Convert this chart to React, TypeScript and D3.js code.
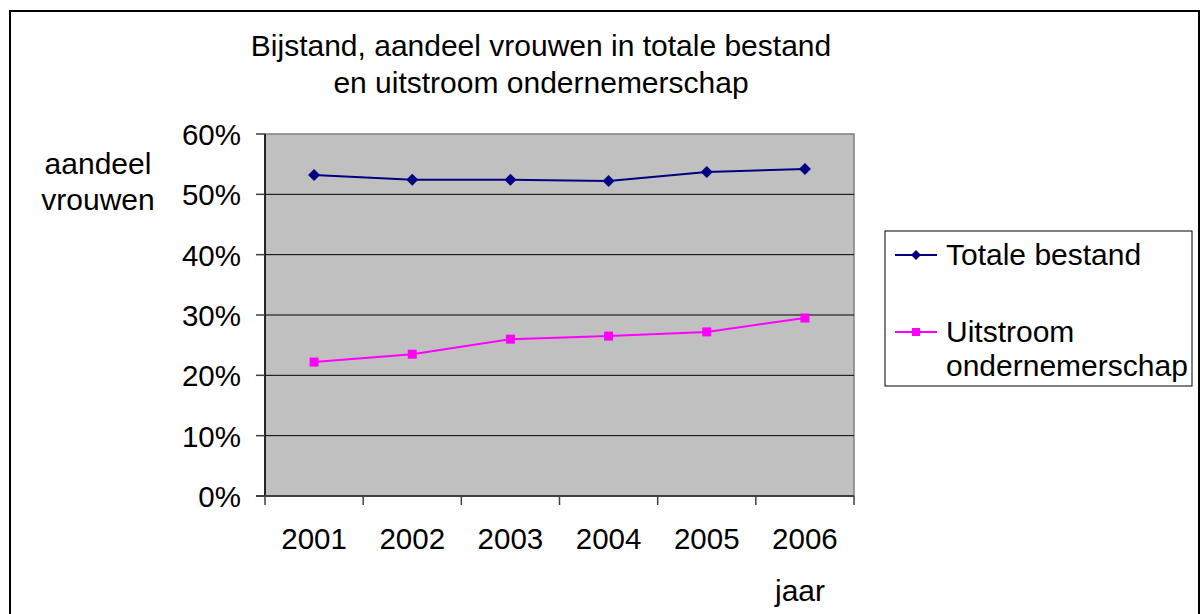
import React from 'react';
import * as d3 from 'd3';

// Chart data
const years = ['2001', '2002', '2003', '2004', '2005', '2006'];
const totaleBestand = [53.2, 52.4, 52.4, 52.2, 53.7, 54.2];
const uitstroom = [22.2, 23.5, 26.0, 26.5, 27.2, 29.5];
const yTicks = [0, 10, 20, 30, 40, 50, 60];

const W = 1204;
const H = 614;
const plot = { left: 265, top: 134, right: 854, bottom: 496 };
const font = '"Liberation Sans", Arial, sans-serif';

const App = () => {
  const x = d3.scaleBand().domain(years).range([plot.left, plot.right]);
  const y = d3.scaleLinear().domain([0, 60]).range([plot.bottom, plot.top]);
  const line = d3.line<number>()
    .x((_, i) => (x(years[i]) as number) + x.bandwidth() / 2)
    .y(d => y(d));

  const diamond = (cx: number, cy: number, r: number) =>
    `M${cx},${cy - r}L${cx + r},${cy}L${cx},${cy + r}L${cx - r},${cy}Z`;

  const boundaries = [...years.map(yr => x(yr) as number), plot.right];

  return (
    <div style={{ position: 'fixed', left: 0, top: 0 }}>
      <svg width={W} height={H} style={{ display: 'block', fontFamily: font }}>
        <rect x={0} y={0} width={W} height={H} fill="white" />
        {/* outer chart border */}
        <rect x={10} y={11} width={1189} height={620} fill="none" stroke="black" strokeWidth={2} />

        {/* title */}
        <text x={541} y={56} textAnchor="middle" fontSize={30}>Bijstand, aandeel vrouwen in totale bestand</text>
        <text x={541} y={93} textAnchor="middle" fontSize={30}>en uitstroom ondernemerschap</text>

        {/* plot area */}
        <rect x={plot.left} y={plot.top} width={plot.right - plot.left} height={plot.bottom - plot.top}
          fill="#C0C0C0" stroke="#808080" strokeWidth={1.5} />

        {/* gridlines */}
        {yTicks.slice(1, -1).map(t => (
          <line key={t} x1={plot.left} x2={plot.right} y1={y(t)} y2={y(t)} stroke="black" strokeWidth={1} />
        ))}

        {/* y axis */}
        <line x1={plot.left} x2={plot.left} y1={plot.top} y2={plot.bottom} stroke="black" strokeWidth={1.5} />
        {yTicks.map(t => (
          <g key={t}>
            <line x1={plot.left - 9} x2={plot.left} y1={y(t)} y2={y(t)} stroke="#404040" strokeWidth={1.5} />
            <text x={241} y={y(t) + 11} textAnchor="end" fontSize={29.5}>{t}%</text>
          </g>
        ))}

        {/* x axis */}
        <line x1={plot.left - 9} x2={plot.right} y1={plot.bottom} y2={plot.bottom} stroke="#404040" strokeWidth={2} />
        {boundaries.map((b, i) => (
          <line key={i} x1={b} x2={b} y1={plot.bottom} y2={plot.bottom + 9} stroke="#404040" strokeWidth={1.5} />
        ))}
        {years.map(yr => (
          <text key={yr} x={(x(yr) as number) + x.bandwidth() / 2} y={549} textAnchor="middle" fontSize={29.5}>{yr}</text>
        ))}

        {/* axis titles */}
        <text x={98} y={174} textAnchor="middle" fontSize={30}>aandeel</text>
        <text x={98} y={210} textAnchor="middle" fontSize={30}>vrouwen</text>
        <text x={800} y={601} textAnchor="middle" fontSize={30}>jaar</text>

        {/* series */}
        <path d={line(totaleBestand) || ''} fill="none" stroke="#000080" strokeWidth={2} />
        {totaleBestand.map((v, i) => (
          <path key={i} d={diamond((x(years[i]) as number) + x.bandwidth() / 2, y(v), 6)} fill="#000080" />
        ))}
        <path d={line(uitstroom) || ''} fill="none" stroke="#FF00FF" strokeWidth={2} />
        {uitstroom.map((v, i) => (
          <rect key={i} x={(x(years[i]) as number) + x.bandwidth() / 2 - 4.5} y={y(v) - 4.5} width={9} height={9} fill="#FF00FF" />
        ))}

        {/* legend */}
        <rect x={885} y={231} width={307} height={155} fill="white" stroke="black" strokeWidth={1} />
        <line x1={895} x2={937} y1={255} y2={255} stroke="#000080" strokeWidth={2} />
        <path d={diamond(916, 255, 5)} fill="#000080" />
        <text x={946} y={265} fontSize={30}>Totale bestand</text>
        <line x1={895} x2={937} y1={332} y2={332} stroke="#FF00FF" strokeWidth={2} />
        <rect x={912} y={328} width={8} height={8} fill="#FF00FF" />
        <text x={946} y={342} fontSize={30}>Uitstroom</text>
        <text x={946} y={376} fontSize={30}>ondernemerschap</text>
      </svg>
    </div>
  );
};

export default App;
